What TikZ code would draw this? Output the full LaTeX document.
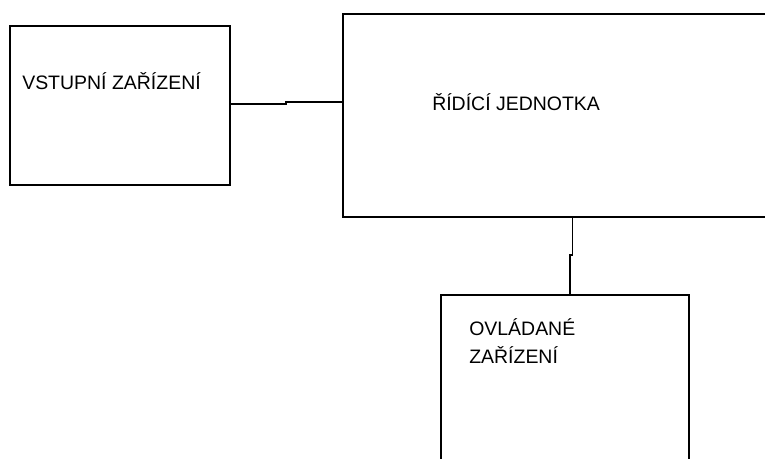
\documentclass[tikz,border=0pt]{standalone}
\usepackage{fontspec}
\setmainfont{Liberation Sans}
\usetikzlibrary{fit}
\begin{document}
\begin{tikzpicture}[x=0.75pt,y=-0.75pt,
  box/.style={draw=black,line width=1.1pt,inner sep=0pt,fill=none},
  label/.style={inner sep=0pt,anchor=base west,align=left,
    font=\fontsize{14.6pt}{21pt}\selectfont},
  wire/.style={draw=black,line width=1.1pt}]
  \useasboundingbox (0,0) rectangle (765,459);
  \clip (0,0) rectangle (765,459);
  % blocks
  \node[box,fit={(10,26) (230,185)}] (vstup) {};
  \node[box,fit={(343,14) (820,217)}] (rizeni) {};
  \node[box,fit={(441,295) (689,520)}] (ovladane) {};
  % captions
  \node[label] (tvstup) at (22,90) {VSTUPNÍ ZAŘÍZENÍ};
  \node[label] (trizeni) at (432,111) {ŘÍDÍCÍ JEDNOTKA};
  \node[label] (tovl) at (469,364) {OVLÁDANÉ\\ZAŘÍZENÍ};
  % connectors with their small jogs
  \coordinate (h1) at (286,104);
  \coordinate (h2) at (286,102);
  \draw[wire] (vstup.east |- h1) -- (h1) -- (h2) -- (rizeni.west |- h2);
  \coordinate (v1) at (572.5,255);
  \coordinate (v2) at (570,255);
  \draw[wire] (rizeni.south -| v1) -- (v1) -- (v2) -- (ovladane.north -| v2);
\end{tikzpicture}
\end{document}
